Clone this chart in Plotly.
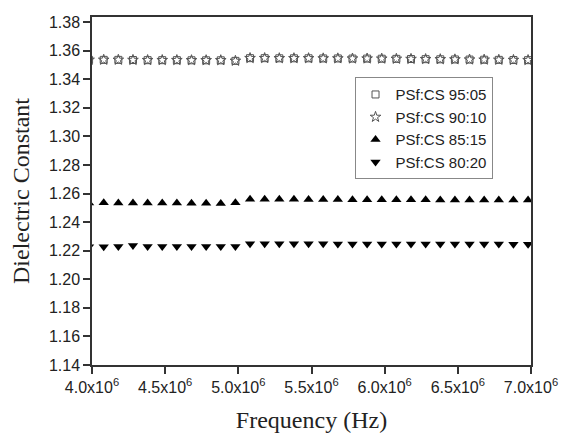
import plotly.graph_objects as go

freq = [3.98e6, 4.08e6, 4.18e6, 4.28e6, 4.38e6, 4.48e6, 4.58e6, 4.68e6, 4.78e6, 4.88e6, 4.98e6,
        5.08e6, 5.18e6, 5.28e6, 5.38e6, 5.48e6, 5.58e6, 5.68e6, 5.78e6, 5.88e6, 5.98e6,
        6.08e6, 6.18e6, 6.28e6, 6.38e6, 6.48e6, 6.58e6, 6.68e6, 6.78e6, 6.88e6, 6.98e6]

psf_95_05 = [1.3535, 1.3535, 1.3535, 1.3534, 1.3533, 1.3533, 1.3533, 1.3532, 1.3532, 1.3532, 1.3528,
             1.3547, 1.3547, 1.3546, 1.3546, 1.3546, 1.3545, 1.3545, 1.3544, 1.3544, 1.3543,
             1.3542, 1.3541, 1.3540, 1.3539, 1.3538, 1.3537, 1.3536, 1.3535, 1.3534, 1.3533]
psf_90_10 = [1.3535, 1.3535, 1.3535, 1.3534, 1.3533, 1.3533, 1.3533, 1.3532, 1.3532, 1.3532, 1.3528,
             1.3547, 1.3547, 1.3546, 1.3546, 1.3546, 1.3545, 1.3545, 1.3544, 1.3544, 1.3543,
             1.3542, 1.3541, 1.3540, 1.3539, 1.3538, 1.3537, 1.3536, 1.3535, 1.3534, 1.3533]
psf_85_15 = [1.2533, 1.2535, 1.2534, 1.2534, 1.2533, 1.2533, 1.2533, 1.2532, 1.2531, 1.2530, 1.2535,
             1.2560, 1.2560, 1.2559, 1.2559, 1.2558, 1.2558, 1.2558, 1.2557, 1.2557, 1.2557,
             1.2556, 1.2556, 1.2556, 1.2555, 1.2555, 1.2555, 1.2554, 1.2554, 1.2554, 1.2554]
psf_80_20 = [1.2228, 1.2228, 1.2230, 1.2236, 1.2229, 1.2229, 1.2229, 1.2229, 1.2229, 1.2229, 1.2229,
             1.2249, 1.2248, 1.2248, 1.2248, 1.2248, 1.2248, 1.2247, 1.2247, 1.2247, 1.2247,
             1.2247, 1.2247, 1.2246, 1.2246, 1.2246, 1.2246, 1.2246, 1.2246, 1.2245, 1.2245]

x_tickvals = [4.0e6, 4.5e6, 5.0e6, 5.5e6, 6.0e6, 6.5e6, 7.0e6]
x_ticktext = ["4.0x10<sup>6</sup>", "4.5x10<sup>6</sup>", "5.0x10<sup>6</sup>", "5.5x10<sup>6</sup>",
              "6.0x10<sup>6</sup>", "6.5x10<sup>6</sup>", "7.0x10<sup>6</sup>"]
y_tickvals = [1.14, 1.16, 1.18, 1.20, 1.22, 1.24, 1.26, 1.28, 1.30, 1.32, 1.34, 1.36, 1.38]
y_ticktext = ["1.14", "1.16", "1.18", "1.20", "1.22", "1.24", "1.26", "1.28", "1.30", "1.32", "1.34", "1.36", "1.38"]

fig = go.Figure()
fig.add_trace(go.Scatter(x=freq, y=psf_95_05, mode="markers", name="PSf:CS 95:05",
                         marker=dict(symbol="square-open", size=7, color="#555555", line=dict(width=1))))
fig.add_trace(go.Scatter(x=freq, y=psf_90_10, mode="markers", name="PSf:CS 90:10",
                         marker=dict(symbol="star-open", size=8, color="#555555", line=dict(width=1))))
fig.add_trace(go.Scatter(x=freq, y=psf_85_15, mode="markers", name="PSf:CS 85:15",
                         marker=dict(symbol="triangle-up", size=9, color="black")))
fig.add_trace(go.Scatter(x=freq, y=psf_80_20, mode="markers", name="PSf:CS 80:20",
                         marker=dict(symbol="triangle-down", size=9, color="black")))

fig.update_layout(
    width=563, height=441,
    margin=dict(l=92, r=32, t=17, b=76),
    paper_bgcolor="white", plot_bgcolor="white",
    font=dict(family="Liberation Sans, Arial", size=16, color="#222222"),
    showlegend=True,
    legend=dict(x=0.598, y=0.827, xanchor="left", yanchor="top",
                bordercolor="#888888", borderwidth=1, bgcolor="white",
                font=dict(size=15), itemwidth=30, tracegroupgap=0),
)
fig.update_xaxes(range=[4.0e6, 7.0e6], tickvals=x_tickvals, ticktext=x_ticktext, automargin=False,
                 showgrid=False, zeroline=False, showline=True, linecolor="#333333", linewidth=1.5,
                 mirror=True, ticks="outside", ticklen=7, tickcolor="#333333", tickwidth=1.5,
                 title=dict(text="Frequency (Hz)", font=dict(family="Liberation Serif, Times New Roman", size=24), standoff=16))
fig.update_yaxes(range=[1.14, 1.3835], tickvals=y_tickvals, ticktext=y_ticktext, automargin=False,
                 showgrid=False, zeroline=False, showline=True, linecolor="#333333", linewidth=1.5,
                 mirror=True, ticks="outside", ticklen=7, tickcolor="#333333", tickwidth=1.5,
                 title=dict(text="Dielectric Constant", font=dict(family="Liberation Serif, Times New Roman", size=24), standoff=13))

fig.write_html("out.html", config={"displayModeBar": False},
               post_script="document.body.style.margin='0';document.body.style.overflow='hidden';")
